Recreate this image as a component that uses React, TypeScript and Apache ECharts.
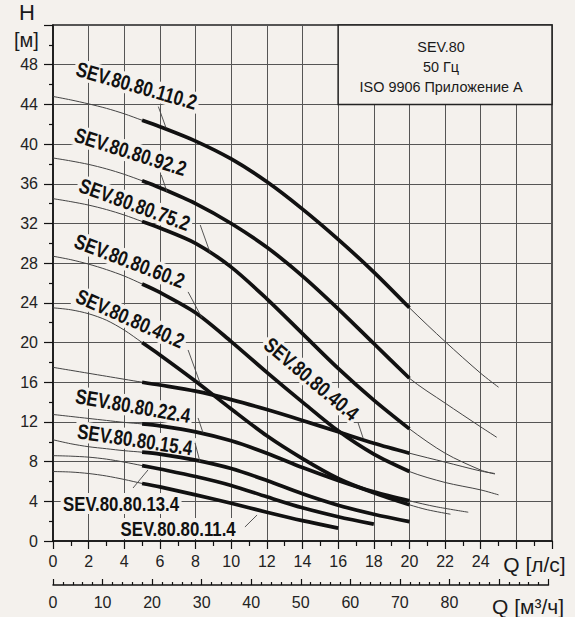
import { useEffect, useRef } from "react";
import * as echarts from "echarts";

// ---------- data ----------
const Q_START = [0, 1, 2, 3, 4, 5];
const Q_OP20 = [5, 6, 8, 10, 12, 14, 16, 18, 20];
const Q_OP18 = [5, 6, 8, 10, 12, 14, 16, 18];
const Q_OP16 = [5, 6, 8, 10, 12, 14, 16];

const H_110_2_START = [44.8, 44.45, 44.05, 43.6, 43.05, 42.4];
const H_110_2_OP = [42.4, 41.75, 40.3, 38.5, 36.2, 33.45, 30.4, 27.1, 23.5];
const Q_110_2_EXT = [20, 22, 24, 25];
const H_110_2_EXT = [23.5, 20.1, 16.9, 15.5];

const H_92_2_START = [38.6, 38.3, 37.95, 37.5, 36.95, 36.3];
const H_92_2_OP = [36.3, 35.6, 34.0, 32.0, 29.6, 26.7, 23.4, 19.9, 16.4];
const Q_92_2_EXT = [20, 22, 24, 24.9];
const H_92_2_EXT = [16.4, 13.9, 11.5, 10.45];

const H_75_2_START = [34.5, 34.2, 33.85, 33.4, 32.85, 32.2];
const H_75_2_OP = [32.2, 31.55, 30.0, 27.6, 24.4, 20.9, 17.4, 14.2, 11.3];
const Q_75_2_EXT = [20, 22, 24, 24.8];
const H_75_2_EXT = [11.3, 8.85, 7.15, 6.75];

const H_60_2_START = [28.7, 28.35, 27.9, 27.35, 26.7, 25.9];
const H_60_2_OP = [25.9, 25.05, 23.0, 20.1, 17.0, 14.0, 11.1, 8.75, 7.0];
const Q_60_2_EXT = [20, 22, 24, 25];
const H_60_2_EXT = [7.0, 5.9, 5.15, 4.65];

const H_40_2_START = [23.5, 23.3, 22.9, 22.25, 21.25, 20.0];
const H_40_2_OP = [20.0, 18.75, 16.1, 13.3, 10.6, 8.3, 6.3, 4.85, 3.65];
const Q_40_2_EXT = [20, 21, 22.3];
const H_40_2_EXT = [3.65, 3.15, 2.7];

const H_40_4_START = [17.5, 17.2, 16.9, 16.6, 16.3, 16.0];
const H_40_4_OP = [16.0, 15.72, 15.1, 14.25, 13.25, 12.15, 11.0, 9.85, 8.85];
const Q_40_4_EXT = [20, 22, 24, 24.8];
const H_40_4_EXT = [8.85, 7.95, 7.05, 6.8];

const H_22_4_START = [12.75, 12.55, 12.35, 12.15, 11.95, 11.8];
const H_22_4_OP = [11.8, 11.6, 11.0, 10.1, 8.85, 7.4, 6.1, 4.95, 4.05];
const Q_22_4_EXT = [20, 21.5, 23.3];
const H_22_4_EXT = [4.05, 3.45, 2.9];

const H_15_4_START = [10.2, 9.8, 9.5, 9.3, 9.1, 8.95];
const H_15_4_OP = [8.95, 8.75, 8.15, 7.3, 6.1, 4.75, 3.6, 2.7, 1.95];

const H_13_4_START = [8.6, 8.55, 8.45, 8.25, 7.95, 7.6];
const H_13_4_OP = [7.6, 7.25, 6.5, 5.6, 4.45, 3.35, 2.45, 1.7];

const H_11_4_START = [7.0, 6.95, 6.8, 6.55, 6.2, 5.8];
const H_11_4_OP = [5.8, 5.45, 4.65, 3.8, 2.9, 2.05, 1.3];

const CURVE_NAMES = [
  "SEV.80.80.110.2",
  "SEV.80.80.92.2",
  "SEV.80.80.75.2",
  "SEV.80.80.60.2",
  "SEV.80.80.40.2",
  "SEV.80.80.40.4",
  "SEV.80.80.22.4",
  "SEV.80.80.15.4",
  "SEV.80.80.13.4",
  "SEV.80.80.11.4",
];

const CURVES = [
  { start: H_110_2_START, opQ: Q_OP20, op: H_110_2_OP, extQ: Q_110_2_EXT, ext: H_110_2_EXT },
  { start: H_92_2_START, opQ: Q_OP20, op: H_92_2_OP, extQ: Q_92_2_EXT, ext: H_92_2_EXT },
  { start: H_75_2_START, opQ: Q_OP20, op: H_75_2_OP, extQ: Q_75_2_EXT, ext: H_75_2_EXT },
  { start: H_60_2_START, opQ: Q_OP20, op: H_60_2_OP, extQ: Q_60_2_EXT, ext: H_60_2_EXT },
  { start: H_40_2_START, opQ: Q_OP20, op: H_40_2_OP, extQ: Q_40_2_EXT, ext: H_40_2_EXT },
  { start: H_40_4_START, opQ: Q_OP20, op: H_40_4_OP, extQ: Q_40_4_EXT, ext: H_40_4_EXT },
  { start: H_22_4_START, opQ: Q_OP20, op: H_22_4_OP, extQ: Q_22_4_EXT, ext: H_22_4_EXT },
  { start: H_15_4_START, opQ: Q_OP20, op: H_15_4_OP, extQ: [] as number[], ext: [] as number[] },
  { start: H_13_4_START, opQ: Q_OP18, op: H_13_4_OP, extQ: [] as number[], ext: [] as number[] },
  { start: H_11_4_START, opQ: Q_OP16, op: H_11_4_OP, extQ: [] as number[], ext: [] as number[] },
];

// label anchors (data coords) and rotation (deg), leader line ends (data coords)
const LABEL_POS: [number, number, number][] = [
  [4.69, 45.87, 16],
  [4.35, 39.2, 17.5],
  [4.58, 33.9, 20],
  [4.3, 28.2, 21],
  [4.33, 22.4, 24],
  [14.5, 16.33, 40],
  [4.49, 13.6, 10],
  [4.6, 10.2, 8.5],
  [3.82, 3.78, 0],
  [7.02, 1.26, 0],
];
const LEADERS: [number, number, number, number][] = [
  [5.91, 43.78, 6.35, 41.6],
  [6.07, 36.9, 6.4, 35.18],
  [8.26, 31.85, 8.82, 29.03],
  [7.58, 25.1, 8.36, 22.48],
  [7.58, 19.25, 8.25, 15.93],
  [17.12, 11.9, 17.4, 10.38],
  [8.14, 12.4, 8.42, 10.89],
  [7.97, 9.88, 8.25, 7.96],
  [4.49, 5.34, 5.33, 7.16],
  [10.77, 1.41, 11.45, 2.62],
];

const INFO_LINES = ["SEV.80", "50 Гц", "ISO 9906 Приложение A"];
const INFO_BOX = [16, 52, 28, 44]; // q0,h0,q1,h1

const BG = "#f4f1ed";
const FONT = "'Liberation Sans', Arial, sans-serif";

export default function App() {
  const ref = useRef<HTMLDivElement>(null);

  useEffect(() => {
    const el = ref.current!;
    const chart = echarts.init(el, null, { renderer: "svg" });
    const series: any[] = [];

    CURVES.forEach((c, ci) => {
      const thin: number[][] = [];
      Q_START.forEach((q, i) => thin.push([q, c.start[i]]));
      c.opQ.forEach((q, i) => { if (i > 0) thin.push([q, c.op[i]]); });
      c.extQ.forEach((q, i) => { if (i > 0) thin.push([q, c.ext[i]]); });
      series.push({
        type: "line",
        name: CURVE_NAMES[ci] + " thin",
        data: thin,
        showSymbol: false,
        symbol: "none",
        smooth: 0.3,
        silent: true,
        z: 2,
        lineStyle: { width: 1, color: "#444" },
      });
      series.push({
        type: "line",
        name: CURVE_NAMES[ci],
        data: c.opQ.map((q, i) => [q, c.op[i]]),
        showSymbol: false,
        symbol: "none",
        smooth: 0.3,
        silent: true,
        z: 3,
        lineStyle: { width: 3.7, color: "#111", cap: "butt" },
      });
    });

    LEADERS.forEach((l) => {
      series.push({
        type: "line",
        data: [[l[0], l[1]], [l[2], l[3]]],
        showSymbol: false,
        symbol: "none",
        silent: true,
        z: 3,
        lineStyle: { width: 0.9, color: "#444" },
      });
    });

    const axisLabelStyle = { color: "#222", fontSize: 16, fontFamily: FONT };

    chart.setOption({
      animation: false,
      backgroundColor: BG,
      grid: [
        { left: 53, right: 23, top: 25, bottom: 76, show: true, borderColor: "#222", borderWidth: 1.5, backgroundColor: "transparent" },
        { left: 53, right: 575 - 548.5, top: 25, bottom: 32, show: false },
      ],
      xAxis: [
        {
          type: "value",
          gridIndex: 0,
          min: 0,
          max: 28,
          interval: 2,
          axisLine: { show: true, onZero: false, lineStyle: { color: "#111", width: 1.5 } },
          axisTick: { show: true, length: 8, lineStyle: { color: "#111", width: 1.2 } },
          minorTick: { show: true, splitNumber: 2, length: 5, lineStyle: { color: "#111", width: 1.2 } },
          splitLine: { show: true, lineStyle: { color: "#555", width: 1 } },
          axisLabel: {
            ...axisLabelStyle,
            margin: 12,
            formatter: (v: number) => (v <= 24 ? String(v) : ""),
          },
        },
        {
          type: "value",
          gridIndex: 1,
          min: 0,
          max: 100,
          interval: 10,
          position: "bottom",
          axisLine: { show: true, onZero: false, lineStyle: { color: "#111", width: 1.5 } },
          axisTick: { show: true, inside: true, length: 6, lineStyle: { color: "#111", width: 1.2 } },
          minorTick: { show: true, splitNumber: 5, length: 3, lineStyle: { color: "#111", width: 1.2 } },
          splitLine: { show: false },
          axisLabel: {
            ...axisLabelStyle,
            margin: 9,
            formatter: (v: number) => (v <= 80 ? String(v) : ""),
          },
        },
      ],
      yAxis: [
        {
          type: "value",
          gridIndex: 0,
          min: 0,
          max: 52,
          interval: 4,
          axisLine: { show: true, onZero: false, lineStyle: { color: "#111", width: 1.5 } },
          axisTick: { show: true, length: 9, lineStyle: { color: "#111", width: 1.2 } },
          minorTick: { show: true, splitNumber: 2, length: 4, lineStyle: { color: "#111", width: 1.2 } },
          splitLine: { show: true, lineStyle: { color: "#555", width: 1 } },
          axisLabel: {
            ...axisLabelStyle,
            margin: 15,
            formatter: (v: number) => (v <= 48 ? String(v) : ""),
          },
        },
        { type: "value", gridIndex: 1, min: 0, max: 1, show: false },
      ],
      series,
    });

    const toPx = (q: number, h: number) =>
      chart.convertToPixel({ xAxisIndex: 0, yAxisIndex: 0 }, [q, h]) as number[];

    const graphic: any[] = [];
    const b0 = toPx(INFO_BOX[0], INFO_BOX[1]);
    const b1 = toPx(INFO_BOX[2], INFO_BOX[3]);
    graphic.push({
      type: "rect",
      z: 5,
      shape: { x: b0[0], y: b0[1], width: b1[0] - b0[0], height: b1[1] - b0[1] },
      style: { fill: BG, stroke: "#222", lineWidth: 1.5 },
    });
    const cx = (b0[0] + b1[0]) / 2 - 4;
    INFO_LINES.forEach((t, i) => {
      graphic.push({
        type: "text",
        z: 6,
        x: cx,
        y: b0[1] + 21.5 + i * 20,
        scaleX: 0.93,
        style: {
          text: t,
          fill: "#1a1a1a",
          fontSize: 15.5,
          fontFamily: FONT,
          align: "center",
          verticalAlign: "middle",
        },
      });
    });

    CURVE_NAMES.forEach((name, i) => {
      const [q, h, deg] = LABEL_POS[i];
      const p = toPx(q, h);
      graphic.push({
        type: "text",
        z: 1,
        x: p[0],
        y: p[1],
        rotation: (-deg * Math.PI) / 180,
        scaleX: 0.8,
        style: {
          text: name,
          fill: "#111",
          fontSize: 21,
          fontWeight: "bold",
          fontFamily: FONT,
          align: "center",
          verticalAlign: "middle",
          backgroundColor: BG,
          padding: [0, 3],
        },
      });
    });

    const axisName = (text: string, x: number, y: number, size: number) => ({
      type: "text",
      z: 6,
      x,
      y,
      style: { text, fill: "#1a1a1a", fontSize: size, fontFamily: FONT, align: "center", verticalAlign: "middle" },
    });
    graphic.push(axisName("H", 27, 12, 22));
    graphic.push(axisName("[м]", 26.5, 40, 20));
    graphic.push(axisName("Q [л/с]", 534.5, 564, 21));
    graphic.push(axisName("Q [м³/ч]", 528, 606, 21));

    chart.setOption({ graphic });

    return () => chart.dispose();
  }, []);

  return (
    <div
      ref={ref}
      style={{ position: "fixed", left: 0, top: 0, width: 575, height: 617, background: BG }}
    />
  );
}
